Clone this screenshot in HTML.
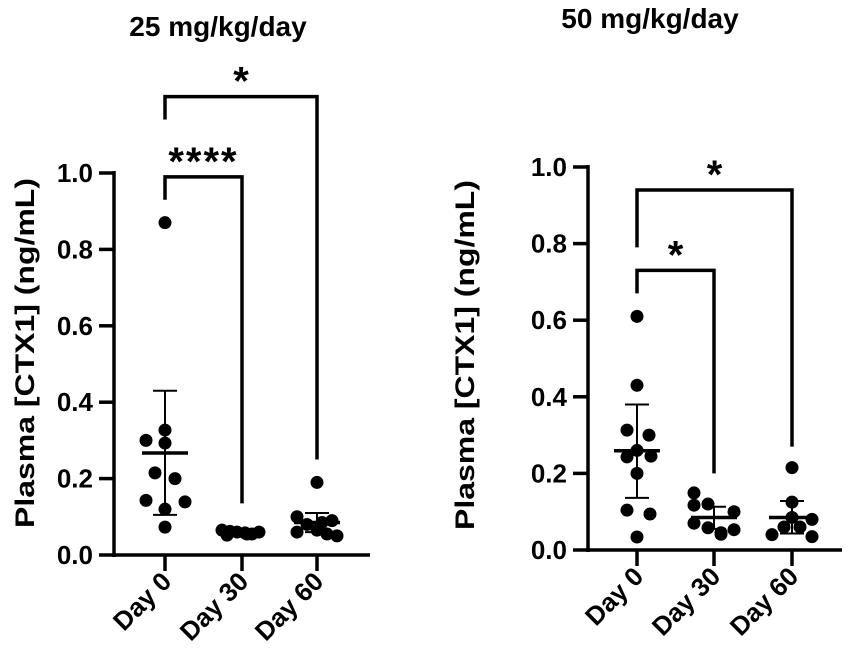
<!DOCTYPE html>
<html><head><meta charset="utf-8">
<style>
html,body{margin:0;padding:0;background:#fff;}
svg{display:block;font-family:"Liberation Sans",Arial,sans-serif;font-weight:bold;}
</style></head>
<body>
<svg id="chart" width="851" height="668" viewBox="0 0 851 668" xmlns="http://www.w3.org/2000/svg"></svg>
<script>
const categories = ["Day 0", "Day 30", "Day 60"];
const yTicks = [0, 0.2, 0.4, 0.6, 0.8, 1.0];
const yTickLabels = ["0.0", "0.2", "0.4", "0.6", "0.8", "1.0"];
const titles = ["25 mg/kg/day", "50 mg/kg/day"];
// left panel (25 mg/kg/day)
const leftDay0 = [0.87, 0.327, 0.30, 0.293, 0.215, 0.20, 0.143, 0.139, 0.12, 0.073];
const leftDay30 = [0.065, 0.062, 0.06, 0.058, 0.055, 0.06, 0.052, 0.055];
const leftDay60 = [0.19, 0.10, 0.08, 0.085, 0.06, 0.065, 0.05, 0.055, 0.09];
const leftMean = [0.267, 0.062, 0.085];
const leftSdHigh = [0.43, 0.068, 0.11];
const leftSdLow = [0.105, 0.056, 0.06];
// right panel (50 mg/kg/day)
const rightDay0 = [0.61, 0.43, 0.313, 0.30, 0.243, 0.245, 0.26, 0.20, 0.104, 0.094, 0.034];
const rightDay30 = [0.149, 0.117, 0.12, 0.10, 0.07, 0.058, 0.045, 0.053, 0.041];
const rightDay60 = [0.215, 0.125, 0.04, 0.06, 0.06, 0.08, 0.035, 0.085];
const rightMean = [0.259, 0.085, 0.085];
const rightSdHigh = [0.38, 0.113, 0.128];
const rightSdLow = [0.136, 0.055, 0.043];
// significance labels
const leftSig = ["****", "*"];
const rightSig = ["*", "*"];

const NS = "http://www.w3.org/2000/svg";
const svg = document.getElementById("chart");
function mk(tag, attrs, parent, name, inter) {
  const e = document.createElementNS(NS, tag);
  for (const k in attrs) e.setAttribute(k, attrs[k]);
  
  
  (parent || svg).appendChild(e);
  return e;
}
const jit = {
  l0: [0, 0, -19, 0, -10, 10, -19, 20, 0, 0],
  l1: [-20, -12, -5, 3, 10, 17, -15, 5],
  l2: [0, -20, -10, 5, -20, 0, 20, 10, 15],
  r0: [0, 0, -10, 12, -10, 14, 0, 0, -10, 13, 0],
  r1: [-20, -20, -6, 20, -20, -6, 7, 20, 7],
  r2: [0, 0, -20, -8, 8, 20, 20, 0]
};

function panel(cfg) {
  const g = mk('g', {}, svg, cfg.name, false);
  const y = v => cfg.y0 - v * cfg.scale;
  const x = i => cfg.xs[i];
  const t = mk('text', {x: cfg.titleX, y: cfg.titleY, 'text-anchor': 'middle', 'font-size': 28}, g, 'chart-title', false);
  t.textContent = cfg.title;
  const yl = mk('text', {x: 0, y: 0, 'text-anchor': 'middle', 'font-size': 27, textLength: 350, lengthAdjust: 'spacingAndGlyphs', transform: `translate(${cfg.ylabX},${cfg.ylabY}) rotate(-90)`}, g, 'y-axis-title', false);
  yl.textContent = "Plasma [CTX1] (ng/mL)";
  mk('line', {x1: cfg.ax, y1: y(1.0) - 2, x2: cfg.ax, y2: cfg.y0 + 2, stroke: '#000', 'stroke-width': 3.5}, g, 'y-axis', false);
  mk('line', {x1: cfg.ax - 2, y1: cfg.y0, x2: cfg.axEnd, y2: cfg.y0, stroke: '#000', 'stroke-width': 3.5}, g, 'x-axis', false);
  yTicks.forEach((v, i) => {
    mk('line', {x1: cfg.ax - 15, y1: y(v), x2: cfg.ax, y2: y(v), stroke: '#000', 'stroke-width': 3.5}, g, 'y-tick', false);
    const tl = mk('text', {x: cfg.ax - 21, y: y(v) + 9, 'text-anchor': 'end', 'font-size': 26}, g, 'y-tick-label', false);
    tl.textContent = yTickLabels[i];
  });
  categories.forEach((c, i) => {
    mk('line', {x1: x(i), y1: cfg.y0, x2: x(i), y2: cfg.y0 + 16, stroke: '#000', 'stroke-width': 3.5}, g, 'x-tick', false);
    const tl = mk('text', {x: 0, y: 0, 'text-anchor': 'end', 'font-size': 26, transform: `translate(${x(i) + 8},${cfg.y0 + 28}) rotate(-45)`}, g, 'x-tick-label', false);
    tl.textContent = c;
  });
  cfg.series.forEach((arr, i) => {
    arr.forEach((v, j) => {
      mk('circle', {cx: x(i) + (cfg.jit[i][j] || 0), cy: y(v), r: 6.5, fill: '#000'}, g, 'data-point', false);
    });
    const hw = 23;
    mk('line', {x1: x(i) - hw, y1: y(cfg.mean[i]), x2: x(i) + hw, y2: y(cfg.mean[i]), stroke: '#000', 'stroke-width': 3.5}, g, 'mean-line', false);
    mk('line', {x1: x(i), y1: y(cfg.hi[i]), x2: x(i), y2: y(cfg.lo[i]), stroke: '#000', 'stroke-width': 2}, g, 'error-bar', false);
    mk('line', {x1: x(i) - 12, y1: y(cfg.hi[i]), x2: x(i) + 12, y2: y(cfg.hi[i]), stroke: '#000', 'stroke-width': 2}, g, 'error-cap', false);
    mk('line', {x1: x(i) - 12, y1: y(cfg.lo[i]), x2: x(i) + 12, y2: y(cfg.lo[i]), stroke: '#000', 'stroke-width': 2}, g, 'error-cap', false);
  });
  cfg.brackets.forEach((b, k) => {
    mk('polyline', {points: `${x(0)},${y(b.l)} ${x(0)},${y(b.top)} ${x(b.to)},${y(b.top)} ${x(b.to)},${y(b.r)}`, fill: 'none', stroke: '#000', 'stroke-width': 3.5}, g, 'significance-bracket', false);
    const st = mk('text', {x: (x(0) + x(b.to)) / 2, y: y(b.top) - 2, 'text-anchor': 'middle', 'font-size': 40, 'letter-spacing': b.label.length > 1 ? 2 : 0}, g, 'significance-label', false);
    st.textContent = b.label;
  });
}

panel({
  name: 'panel-25mg', title: titles[0], titleX: 218, titleY: 36,
  ax: 114, axEnd: 370, y0: 555, scale: 382, xs: [165, 242, 317], ylabX: 34, ylabY: 353,
  series: [leftDay0, leftDay30, leftDay60], jit: [jit.l0, jit.l1, jit.l2],
  mean: leftMean, hi: leftSdHigh, lo: leftSdLow,
  brackets: [
    {to: 1, top: 0.99, l: 0.93, r: 0.135, label: leftSig[0]},
    {to: 2, top: 1.20, l: 1.14, r: 0.25, label: leftSig[1]}
  ]
});
panel({
  name: 'panel-50mg', title: titles[1], titleX: 650, titleY: 28,
  ax: 588, axEnd: 842, y0: 550, scale: 383, xs: [637, 714, 792], ylabX: 474, ylabY: 355,
  series: [rightDay0, rightDay30, rightDay60], jit: [jit.r0, jit.r1, jit.r2],
  mean: rightMean, hi: rightSdHigh, lo: rightSdLow,
  brackets: [
    {to: 1, top: 0.73, l: 0.67, r: 0.20, label: rightSig[0]},
    {to: 2, top: 0.94, l: 0.79, r: 0.27, label: rightSig[1]}
  ]
});
</script>
</body></html>
